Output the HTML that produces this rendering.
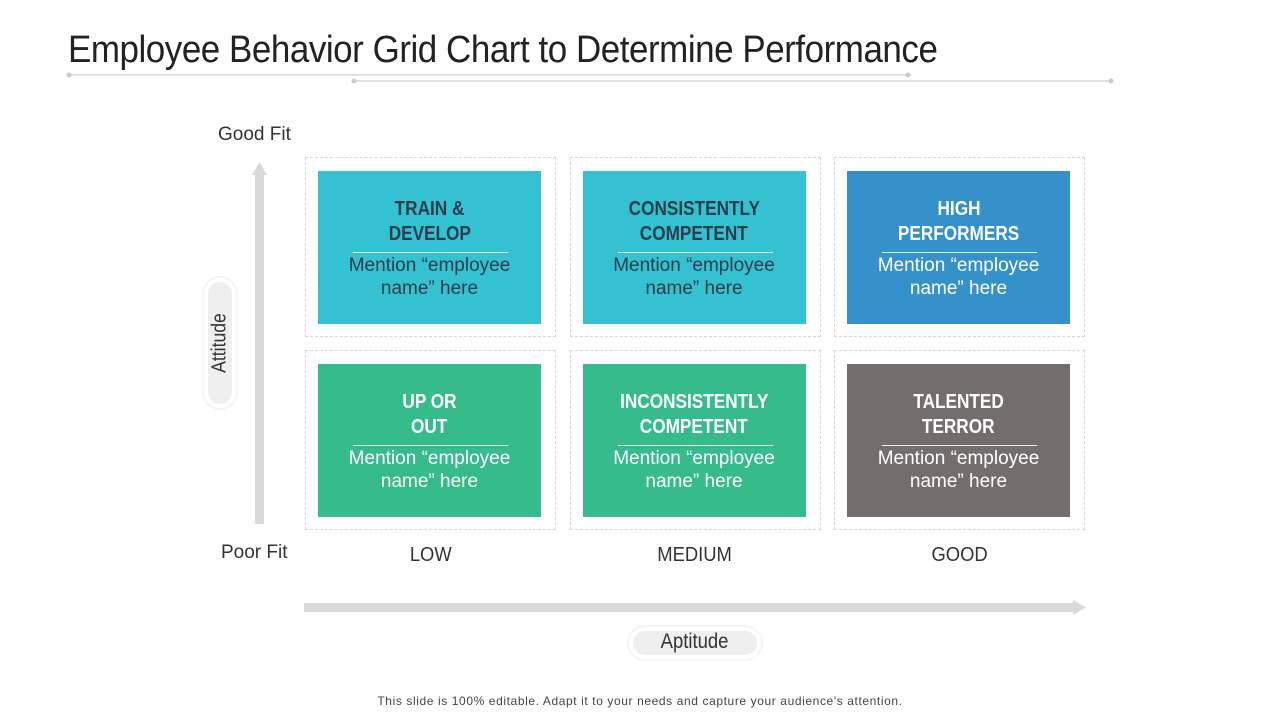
<!DOCTYPE html>
<html><head><meta charset="utf-8">
<style>
body{margin:0;width:1280px;height:720px;background:#fff;position:relative;overflow:hidden;font-family:"Liberation Sans",sans-serif;}
.abs{position:absolute;}
.cond{display:inline-block;transform:scaleX(0.86);transform-origin:center;white-space:nowrap;}
.cell{position:absolute;border:1px dashed #d6d6d6;box-sizing:border-box;}
.box{position:absolute;text-align:center;}
.box .h{position:absolute;left:0;right:0;font-weight:bold;font-size:20px;line-height:25px;}
.box .rule{position:absolute;height:1px;}
.box .m{position:absolute;left:0;right:0;font-size:19px;line-height:23px;}
</style></head>
<body>
<div class="abs" style="left:68px;top:27px;font-size:38px;color:#222;line-height:46px;letter-spacing:-0.5px"><span style="display:inline-block;transform:scaleX(0.92);transform-origin:left">Employee Behavior Grid Chart to Determine Performance</span></div>
<svg class="abs" style="left:0;top:0" width="1280" height="100">
<line x1="69" y1="75" x2="908" y2="75" stroke="#d9d9d9" stroke-width="1.5"/>
<line x1="354" y1="81" x2="1111" y2="81" stroke="#d9d9d9" stroke-width="1.5"/>
<circle cx="69" cy="75" r="2.5" fill="#ccc"/><circle cx="908" cy="75" r="2.5" fill="#ccc"/>
<circle cx="354" cy="81" r="2.5" fill="#ccc"/><circle cx="1111" cy="81" r="2.5" fill="#ccc"/>
</svg>

<div class="abs" style="left:218px;top:124px;font-size:19px;color:#333">Good Fit</div>
<div class="abs" style="left:221px;top:542px;font-size:19px;color:#333">Poor Fit</div>

<svg class="abs" style="left:0;top:0" width="1280" height="720">
<rect x="255" y="174" width="9" height="350" fill="#d9d9d9"/>
<polygon points="252,175 267,175 259.5,162" fill="#d9d9d9"/>
<rect x="304" y="603" width="770" height="9" fill="#d9d9d9"/>
<polygon points="1073,600 1073,615 1086,607.5" fill="#d9d9d9"/>
</svg>

<div class="abs" style="left:202px;top:276px;width:36px;height:134px;border:2px solid #f5f5f5;border-radius:18px;box-sizing:border-box;">
 <div style="position:absolute;left:4px;top:4px;right:4px;bottom:4px;background:#efefef;border-radius:14px;"></div>
 <div style="position:absolute;left:50%;top:50%;transform:translate(-50%,-50%) rotate(-90deg);font-size:20px;color:#333;white-space:nowrap"><span class="cond" style="transform:scaleX(0.88)">Attitude</span></div>
</div>
<div class="abs" style="left:627px;top:625px;width:136px;height:36px;border:2px solid #f5f5f5;border-radius:18px;box-sizing:border-box;">
 <div style="position:absolute;left:4px;top:4px;right:4px;bottom:4px;background:#efefef;border-radius:14px;"></div>
 <div style="position:absolute;left:0;right:0;top:3px;text-align:center;font-size:21px;color:#333"><span class="cond" style="transform:scaleX(0.88)">Aptitude</span></div>
</div>

<div id="grid"></div>

<div class="abs" style="left:0;width:1280px;top:694px;text-align:center;font-size:12px;color:#444;letter-spacing:0.6px">This slide is 100% editable. Adapt it to your needs and capture your audience's attention.</div>

<script>
const xCategories = ["LOW","MEDIUM","GOOD"];
const cellTitles = [["TRAIN &","DEVELOP"],["CONSISTENTLY","COMPETENT"],["HIGH","PERFORMERS"],["UP OR","OUT"],["INCONSISTENTLY","COMPETENT"],["TALENTED","TERROR"]];
const cellCols = [0,1,2,0,1,2];
const cellRows = [0,0,0,1,1,1];
const cellColors = ["#34c1d2","#34c1d2","#3591c9","#35bb8c","#35bb8c","#746d6d"];
const cellText = ["#2c3e4c","#2c3e4c","#ffffff","#ffffff","#ffffff","#ffffff"];
const colX = c => 305 + c*264.5;
const rowY = r => 157 + r*193;
const grid = document.getElementById('grid');
xCategories.forEach((t,i)=>{
  const d=document.createElement('div');
  d.className='abs';
  
  
  d.style.cssText=`left:${colX(i)}px;width:251px;top:544px;text-align:center;font-size:20px;color:#333`;
  d.innerHTML=`<span class="cond" style="transform:scaleX(0.92)">${t}</span>`;
  grid.appendChild(d);
});
cellTitles.forEach((tt,i)=>{
  const x=colX(cellCols[i]), y=rowY(cellRows[i]);
  const c=document.createElement('div');
  c.className='cell';
  
  
  c.style.cssText=`left:${x}px;top:${y}px;width:251px;height:180px`;
  grid.appendChild(c);
  const b=document.createElement('div');
  b.className='box';
  
  
  const col=cellText[i];
  b.style.cssText=`left:${x+13}px;top:${y+14}px;width:223px;height:153px;background:${cellColors[i]};color:${col}`;
  b.innerHTML=`<div class="h" style="top:26px"><span class="cond">${tt[0]}</span></div>`+
    `<div class="h" style="top:51px"><span class="cond">${tt[1]}</span></div>`+
    `<div class="rule" style="left:35px;width:155px;top:81px;background:${i<2?'#e6f6f8':'rgba(255,255,255,0.85)'}"></div>`+
    `<div class="m" style="top:83px">Mention “employee</div>`+
    `<div class="m" style="top:106px">name” here</div>`;
  grid.appendChild(b);
});
</script>
</body></html>
